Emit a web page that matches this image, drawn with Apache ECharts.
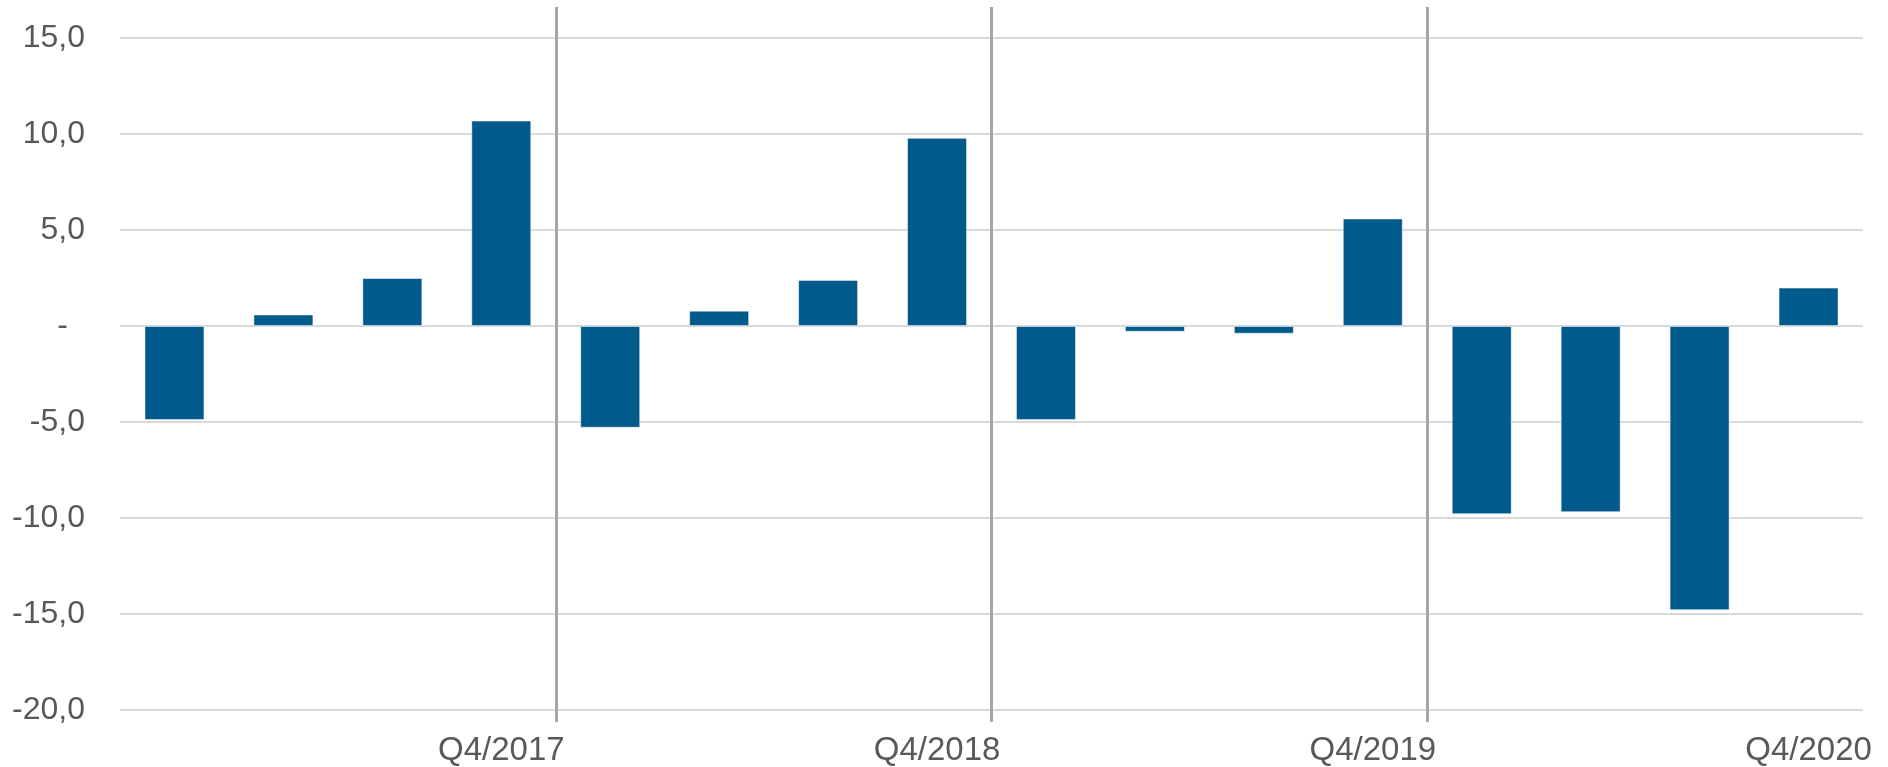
<!DOCTYPE html>
<html lang="en">
<head>
    <meta charset="UTF-8">
    <title>Quarterly change</title>
    <style>
        html, body { margin: 0; padding: 0; background: #fff; }
        #main { width: 1888px; height: 767px; }
    </style>
</head>
<body>
<div id="main"></div>
<script src="https://cdn.jsdelivr.net/npm/echarts@6/dist/echarts.min.js"></script>
<script type="text/javascript">
    // quarters Q1/2017 .. Q4/2020
    var quarters = [
        'Q1/2017', 'Q2/2017', 'Q3/2017', 'Q4/2017',
        'Q1/2018', 'Q2/2018', 'Q3/2018', 'Q4/2018',
        'Q1/2019', 'Q2/2019', 'Q3/2019', 'Q4/2019',
        'Q1/2020', 'Q2/2020', 'Q3/2020', 'Q4/2020'
    ];
    var values = [
        -4.9, 0.6, 2.5, 10.7,
        -5.3, 0.8, 2.4, 9.8,
        -4.9, -0.3, -0.4, 5.6,
        -9.8, -9.7, -14.8, 2.0
    ];
    var yTicks = [-20, -15, -10, -5, 0, 5, 10, 15];
    // year breaks, in number of quarters from the left edge
    var yearBreaks = [4, 8, 12];

    var textColor = '#595959';
    var font = 'Liberation Sans, Arial, sans-serif';

    const myChart = echarts.init(document.getElementById('main'));
    let option = {
        animation: false,
        grid: [
            {left: 120, right: 25, top: 38, bottom: 52},
            // second grid only for the year separators (they run a bit past the plot)
            {left: 120, right: 25, top: 7, bottom: 45}
        ],
        xAxis: [
            {
                type: 'category',
                gridIndex: 0,
                data: quarters,
                axisLine: {show: false},
                axisTick: {show: false},
                axisLabel: {
                    interval: function (i) { return i % 4 === 3; },
                    color: textColor,
                    fontFamily: font,
                    fontSize: 33,
                    margin: 24
                }
            },
            {
                type: 'value',
                gridIndex: 1,
                min: 0,
                max: quarters.length,
                show: false
            }
        ],
        yAxis: [
            {
                type: 'value',
                gridIndex: 0,
                min: yTicks[0],
                max: yTicks[yTicks.length - 1],
                interval: 5,
                axisLine: {show: false},
                axisTick: {show: false},
                splitLine: {lineStyle: {color: '#d9d9d9', width: 2}},
                axisLabel: {
                    color: textColor,
                    fontFamily: font,
                    fontSize: 32,
                    margin: 35,
                    formatter: function (v) {
                        if (v === 0) return '{z|-}';
                        return v.toFixed(1).replace('.', ',');
                    },
                    rich: {
                        z: {color: textColor, fontFamily: font, fontSize: 32, padding: [0, 17, 0, 0]}
                    }
                }
            },
            {
                type: 'value',
                gridIndex: 1,
                show: false,
                min: 0,
                max: 1
            }
        ],
        series: [
            {
                type: 'bar',
                xAxisIndex: 0,
                yAxisIndex: 0,
                data: values,
                barWidth: 60,
                itemStyle: {
                    color: '#005a8c',
                    borderColor: 'rgba(255,255,255,0.5)',
                    borderWidth: 1
                }
            },
            {
                type: 'line',
                xAxisIndex: 1,
                yAxisIndex: 1,
                data: [],
                silent: true,
                markLine: {
                    silent: true,
                    symbol: ['none', 'none'],
                    label: {show: false},
                    lineStyle: {color: '#a6a6a6', width: 3, type: 'solid'},
                    data: yearBreaks.map(function (b) { return {xAxis: b}; })
                }
            }
        ]
    };

    option && myChart.setOption(option);
</script>
</body>
</html>
